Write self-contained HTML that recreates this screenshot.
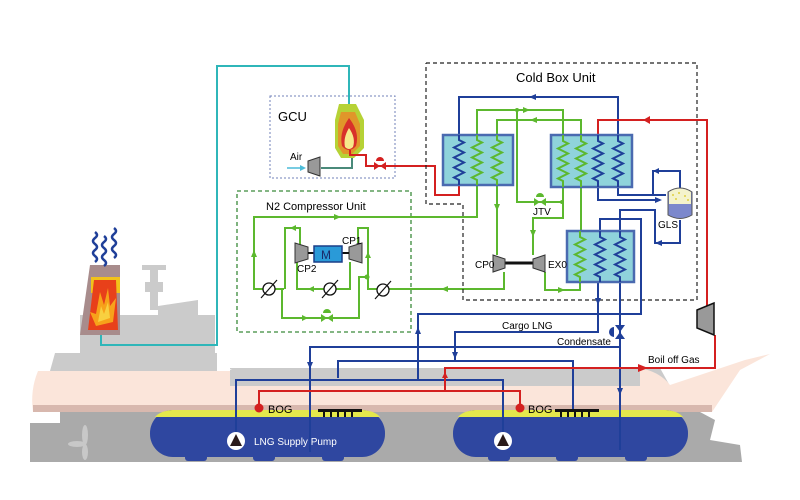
<!DOCTYPE html>
<html><head><meta charset="utf-8"><style>
html,body{margin:0;padding:0;background:#fff;width:800px;height:500px;overflow:hidden}
svg{display:block}
text{font-family:"Liberation Sans",sans-serif}
</style></head><body>
<svg width="800" height="500" viewBox="0 0 800 500" xmlns="http://www.w3.org/2000/svg">
<!-- ship superstructure -->
<g fill="#cbcbcb">
<rect x="142" y="265" width="24" height="5"/>
<rect x="150" y="270" width="8" height="40"/>
<rect x="145" y="282" width="18" height="10"/>
<polygon points="158,306 198,300 198,318 158,318"/>
<rect x="80" y="315" width="135" height="40"/>
<polygon points="55,353 217,353 217,371 50,371"/>
<rect x="230" y="368" width="415" height="18"/>
<path d="M645,368 L660,368 L670,386 L645,386z"/>
</g>
<path d="M217,340 Q217,365 232,370 L217,370z" fill="#fff"/>
<!-- hull pink -->
<path d="M38,371 L230,371 L230,386 L640,386 L640,368 Q660,372 670,385 L745,360 L770,354 L740,370 L712,412 L33,412 Q30,390 38,371z" fill="#fbe5da"/>
<path d="M33,405 L712,405 L712,412 L33,412z" fill="#d8b8ae"/>
<!-- lower hull gray -->
<path d="M30,423 L60,423 L60,412 L700,412 L715,420 L710,440 L740,445 L742,462 L60,462 L60,455 L30,462z" fill="#aaaaaa"/>
<rect x="30" y="423" width="30" height="39" fill="#aaaaaa"/>
<g fill="#c8c8c8"><ellipse cx="85" cy="435" rx="3" ry="10"/><ellipse cx="85" cy="452" rx="3" ry="8"/><ellipse cx="77" cy="444" rx="9" ry="3"/></g>
<!-- funnel -->
<polygon points="90,265 120,265 120,335 80,335" fill="#a88c8c"/>
<rect x="91" y="277" width="29" height="16" fill="#f2c21a"/>
<polygon points="94,280 116,280 118,330 88,330" fill="#e8401a"/>
<polygon points="100,292 104,305 108,288 110,306 116,298 113,322 96,326 90,312 96,314" fill="#f7a21a"/>
<polygon points="101,306 104,314 108,302 110,318 98,322" fill="#f8d040"/>
<g fill="none" stroke="#1f3f99" stroke-width="2.5">
<path d="M95,232 q4,3 0,6 q-4,3 0,6 q4,3 0,6 q-4,3 0,6 q4,3 0,6"/>
<path d="M104,236 q4,3 0,6 q-4,3 0,6 q4,3 0,6 q-4,3 0,6 q4,3 0,6"/>
<path d="M114,228 q4,3 0,6 q-4,3 0,6 q4,3 0,6 q-4,3 0,6 q4,3 0,6"/>
</g>
<!-- tanks -->
<g>
<rect x="150" y="410" width="235" height="47" rx="23" fill="#2f47a0"/>
<path d="M172,410 L363,410 Q375,411 380,417 L155,417 Q160,411 172,410z" fill="#e4e84c"/>
<rect x="453" y="410" width="235" height="47" rx="23" fill="#2f47a0"/>
<path d="M475,410 L666,410 Q678,411 683,417 L458,417 Q463,411 475,410z" fill="#e4e84c"/>
<g fill="#2f47a0"><rect x="185" y="452" width="22" height="9" rx="3"/><rect x="253" y="452" width="22" height="9" rx="3"/><rect x="322" y="452" width="22" height="9" rx="3"/><rect x="488" y="452" width="22" height="9" rx="3"/><rect x="556" y="452" width="22" height="9" rx="3"/><rect x="625" y="452" width="22" height="9" rx="3"/></g>
</g>
<!-- teal exhaust -->
<polyline points="101,335 101,345 217,345 217,66 349,66 349,108" fill="none" stroke="#2fb6b9" stroke-width="2"/>
<!-- GCU -->
<rect x="270" y="96" width="125" height="82" fill="none" stroke="#7080b8" stroke-width="1" stroke-dasharray="2,2"/>
<text x="278" y="121" font-size="13">GCU</text>
<path d="M339,104 L356,104 L364,120 L364,148 L354,158 L341,158 L335,148 L335,120z" fill="#b6d236"/>
<path d="M341,112 L355,112 L360,124 L360,146 L352,154 L343,154 L338,146 L338,124z" fill="#e0962a"/>
<path d="M349,118 Q360,132 356,146 Q349,154 342,146 Q339,132 349,118z" fill="#d8302a"/>
<path d="M349,128 Q356,138 353,147 Q349,151 345,147 Q343,138 349,128z" fill="#f6e88a"/>
<polyline points="321,168 352,168 352,158" fill="none" stroke="#4a8a7a" stroke-width="2"/>
<polygon points="308,161 320,157 320,176 308,172" fill="#999" stroke="#333"/>
<text x="290" y="160" font-size="10">Air</text>
<line x1="287" y1="168" x2="304" y2="168" stroke="#4cbcd8" stroke-width="1.5"/>
<polygon points="300,165 306,168 300,171" fill="#4cbcd8"/>
<!-- red BOG to GCU -->
<polyline points="350,150 350,155 366,155 366,166 435,166 435,195 459,195 459,185" fill="none" stroke="#d42020" stroke-width="2"/>
<polygon points="374,162 380,166 374,170" fill="#d42020"/><polygon points="386,162 380,166 386,170" fill="#d42020"/>
<path d="M376,161 a4,4 0 0 1 8,0z" fill="#d42020"/>
<!-- N2 compressor unit -->
<rect x="237" y="191" width="174" height="141" fill="none" stroke="#3a8a3a" stroke-width="1.3" stroke-dasharray="4,3"/>
<text x="266" y="210" font-size="11">N2 Compressor Unit</text>
<g fill="none" stroke="#5cb82e" stroke-width="2">
<polyline points="284,289 254,289 254,217 477,217 477,185"/>
<polyline points="297,262 297,289 350,289 350,262"/>
<polyline points="300,245 300,228 285,228 285,289"/>
<polyline points="358,243 358,228 368,228 368,289 504,289 504,272"/>
<polyline points="282,289 282,318 359,318 359,277 368,277"/>
</g>
<circle cx="367" cy="277" r="2.5" fill="#5cb82e"/>
<polygon points="251,257 254,250 257,257" fill="#5cb82e"/>
<polygon points="334,214 341,217 334,220" fill="#5cb82e"/>
<polygon points="296,225 290,228 296,231" fill="#5cb82e"/>
<polygon points="314,286 308,289 314,292" fill="#5cb82e"/>
<polygon points="365,258 368,252 371,258" fill="#5cb82e"/>
<polygon points="302,315 308,318 302,321" fill="#5cb82e"/>
<polygon points="321,314 327,318 321,322" fill="#5cb82e"/><polygon points="333,314 327,318 333,322" fill="#5cb82e"/>
<path d="M323,313 a4,4 0 0 1 8,0z" fill="#5cb82e"/>
<g fill="#fff" stroke="#111" stroke-width="1.3">
<circle cx="269" cy="289" r="6"/><circle cx="330" cy="289" r="6"/><circle cx="383" cy="290" r="6"/>
</g>
<g stroke="#111" stroke-width="1.2"><line x1="261" y1="298" x2="277" y2="280"/><line x1="322" y1="298" x2="338" y2="280"/><line x1="375" y1="299" x2="391" y2="281"/></g>
<polygon points="295,243 308,247 308,259 295,263" fill="#999" stroke="#333"/>
<polygon points="362,243 349,247 349,259 362,263" fill="#999" stroke="#333"/>
<line x1="308" y1="253" x2="349" y2="253" stroke="#111" stroke-width="2"/>
<rect x="314" y="246" width="28" height="16" fill="#2a9ad8" stroke="#1a3f88" stroke-width="1.5"/>
<text x="321" y="259" font-size="12" fill="#1a2a6a">M</text>
<text x="342" y="244" font-size="10">CP1</text>
<text x="297" y="272" font-size="10">CP2</text>
<!-- cold box -->
<polyline points="426,63 697,63 697,300 463,300 463,204 426,204 426,63" fill="none" stroke="#222" stroke-width="1.2" stroke-dasharray="4,3"/>
<text x="516" y="82" font-size="13">Cold Box Unit</text>
<g fill="none" stroke-width="2">
<polyline stroke="#1f3f99" points="459,135 459,97 618,97 618,135"/>
<polyline stroke="#5cb82e" points="477,135 477,110 563,110 563,135"/>
<polyline stroke="#5cb82e" points="497,135 497,120 581,120 581,135"/>
<polyline stroke="#5cb82e" points="517,110 517,202 562,202"/>
<polyline stroke="#5cb82e" points="563,187 563,218 533,218 533,255"/>
<polyline stroke="#5cb82e" points="497,185 497,255"/>
<polyline stroke="#5cb82e" points="581,187 581,231"/>
<polyline stroke="#5cb82e" points="580,282 580,290 545,290 545,272"/>
<polyline stroke="#d42020" points="707,310 707,120 598,120 598,135"/>
<polyline stroke="#1f3f99" points="598,187 598,200 660,200"/>
<polyline stroke="#1f3f99" points="618,187 618,195 666,195"/>
<polyline stroke="#1f3f99" points="680,188 680,171 653,171 653,195"/>
<polyline stroke="#1f3f99" points="680,220 680,243 655,243 655,210 620,210 620,231"/>
<polyline stroke="#1f3f99" points="600,231 600,219 641,219 641,314 418,314 418,380 236,380 236,432"/>
<polyline stroke="#1f3f99" points="598,282 598,332 455,332 455,361"/>
<polyline stroke="#1f3f99" points="620,282 620,450"/>
<polyline stroke="#1f3f99" points="310,452 310,347 620,347"/>
<polyline stroke="#1f3f99" points="338,378 338,361 573,361 573,410"/>
<polyline stroke="#1f3f99" points="418,380 503,380 503,432"/>
<polyline stroke="#d42020" points="259,408 259,391 520,391 520,408"/>
<polyline stroke="#d42020" points="445,391 445,368 715,368 715,335"/>
</g>
<g fill="#1f3f99">
<polygon points="536,94 529,97 536,100"/>
<polygon points="655,197 662,200 655,203"/>
<polygon points="659,168 653,171 659,174"/>
<polygon points="662,240 655,243 662,246"/>
<polygon points="595,298 598,305 601,298"/>
<polygon points="452,352 455,359 458,352"/>
<polygon points="415,334 418,327 421,334"/>
<polygon points="307,362 310,369 313,362"/>
<polygon points="617,388 620,395 623,388"/>
</g>
<g fill="#5cb82e">
<polygon points="523,107 530,110 523,113"/>
<polygon points="537,117 530,120 537,123"/>
<polygon points="494,204 497,211 500,204"/>
<polygon points="530,230 533,237 536,230"/>
<polygon points="558,287 565,290 558,293"/>
<polygon points="448,286 441,289 448,292"/>
</g>
<g fill="#d42020">
<polygon points="650,116 643,120 650,124"/>
<polygon points="442,378 445,372 448,378"/>
<polygon points="638,364 648,368 638,372"/>
</g>
<!-- JTV -->
<polygon points="534,198 540,202 534,206" fill="#5cb82e"/><polygon points="546,198 540,202 546,206" fill="#5cb82e"/>
<path d="M536,197 a4,4 0 0 1 8,0z" fill="#5cb82e"/>
<circle cx="517" cy="110" r="2" fill="#5cb82e"/><circle cx="562" cy="202" r="2" fill="#5cb82e"/>
<text x="533" y="215" font-size="10">JTV</text>
<!-- HX boxes -->
<g fill="#8fd3db" stroke="#4a6ab0" stroke-width="2.5">
<rect x="443" y="135" width="70" height="50"/>
<rect x="551" y="135" width="81" height="52"/>
<rect x="567" y="231" width="67" height="51"/>
</g>
<g fill="none" stroke-width="2">
<path stroke="#1f3f99" d="M459,135 v5 l5,2.5 l-10,5 l5,2.5 l5,2.5 l-10,5 l5,2.5 l5,2.5 l-10,5 l5,2.5 l5,2.5 l-10,5 l5,2.5 v5"/>
<path stroke="#5cb82e" d="M477,135 v5 l5,2.5 l-10,5 l5,2.5 l5,2.5 l-10,5 l5,2.5 l5,2.5 l-10,5 l5,2.5 l5,2.5 l-10,5 l5,2.5 v5"/>
<path stroke="#5cb82e" d="M497,135 v5 l5,2.5 l-10,5 l5,2.5 l5,2.5 l-10,5 l5,2.5 l5,2.5 l-10,5 l5,2.5 l5,2.5 l-10,5 l5,2.5 v5"/>
<path stroke="#5cb82e" d="M563,135 v6 l5,2.5 l-10,5 l5,2.5 l5,2.5 l-10,5 l5,2.5 l5,2.5 l-10,5 l5,2.5 l5,2.5 l-10,5 l5,2.5 v6"/>
<path stroke="#5cb82e" d="M581,135 v6 l5,2.5 l-10,5 l5,2.5 l5,2.5 l-10,5 l5,2.5 l5,2.5 l-10,5 l5,2.5 l5,2.5 l-10,5 l5,2.5 v6"/>
<path stroke="#1f3f99" d="M598,135 v6 l5,2.5 l-10,5 l5,2.5 l5,2.5 l-10,5 l5,2.5 l5,2.5 l-10,5 l5,2.5 l5,2.5 l-10,5 l5,2.5 v6"/>
<path stroke="#1f3f99" d="M618,135 v6 l5,2.5 l-10,5 l5,2.5 l5,2.5 l-10,5 l5,2.5 l5,2.5 l-10,5 l5,2.5 l5,2.5 l-10,5 l5,2.5 v6"/>
<path stroke="#5cb82e" d="M580,231 v6 l5,2.5 l-10,5 l5,2.5 l5,2.5 l-10,5 l5,2.5 l5,2.5 l-10,5 l5,2.5 l5,2.5 l-10,5 l5,2.5 v5"/>
<path stroke="#1f3f99" d="M600,231 v6 l5,2.5 l-10,5 l5,2.5 l5,2.5 l-10,5 l5,2.5 l5,2.5 l-10,5 l5,2.5 l5,2.5 l-10,5 l5,2.5 v5"/>
<path stroke="#1f3f99" d="M620,231 v6 l5,2.5 l-10,5 l5,2.5 l5,2.5 l-10,5 l5,2.5 l5,2.5 l-10,5 l5,2.5 l5,2.5 l-10,5 l5,2.5 v5"/>
</g>
<!-- CP0 / EX0 -->
<line x1="505" y1="263" x2="533" y2="263" stroke="#111" stroke-width="3"/>
<polygon points="493,255 505,259 505,268 493,272" fill="#999" stroke="#333"/>
<polygon points="545,255 533,259 533,268 545,272" fill="#999" stroke="#333"/>
<text x="475" y="268" font-size="10">CP0</text>
<text x="548" y="268" font-size="10">EX0</text>
<!-- GLS -->
<path d="M668,192 Q680,184 692,192 L692,215 Q680,222 668,215z" fill="#7c88cc" stroke="#555"/>
<path d="M669,192 Q680,185 691,192 L691,204 L669,204z" fill="#f4f3cc"/>
<g fill="#e0d040"><circle cx="673" cy="195" r="1"/><circle cx="679" cy="193" r="1"/><circle cx="685" cy="196" r="1"/><circle cx="676" cy="199" r="1"/><circle cx="688" cy="200" r="1"/></g>
<text x="658" y="228" font-size="10">GLS</text>
<!-- BOG compressor -->
<polygon points="697,310 714,303 714,335 697,328" fill="#999" stroke="#111" stroke-width="1.5"/>
<!-- condensate valve -->
<polygon points="615,325 620,332 625,325" fill="#1f3f99"/><polygon points="615,339 620,332 625,339" fill="#1f3f99"/>
<path d="M614,327 a5,5 0 0 0 0,10z" fill="#1f3f99"/>
<text x="502" y="329" font-size="10">Cargo LNG</text>
<text x="557" y="345" font-size="10">Condensate</text>
<text x="648" y="363" font-size="10">Boil off Gas</text>
<circle cx="259" cy="408" r="4.5" fill="#d42020"/><text x="268" y="413" font-size="11">BOG</text>
<circle cx="520" cy="408" r="4.5" fill="#d42020"/><text x="528" y="413" font-size="11">BOG</text>
<g fill="#111">
<rect x="318" y="409" width="44" height="3"/>
<rect x="323" y="412" width="2" height="5"/><rect x="330" y="412" width="2" height="5"/><rect x="337" y="412" width="2" height="5"/><rect x="344" y="412" width="2" height="5"/><rect x="351" y="412" width="2" height="5"/>
<rect x="555" y="409" width="44" height="3"/>
<rect x="560" y="412" width="2" height="5"/><rect x="567" y="412" width="2" height="5"/><rect x="574" y="412" width="2" height="5"/><rect x="581" y="412" width="2" height="5"/><rect x="588" y="412" width="2" height="5"/>
</g>
<circle cx="236" cy="441" r="9" fill="#fff"/><polygon points="230,446 236,434 242,446" fill="#2a1a1a"/>
<circle cx="503" cy="441" r="9" fill="#fff"/><polygon points="497,446 503,434 509,446" fill="#2a1a1a"/>
<text x="254" y="445" font-size="10" fill="#fff">LNG Supply Pump</text>
</svg>
</body></html>
